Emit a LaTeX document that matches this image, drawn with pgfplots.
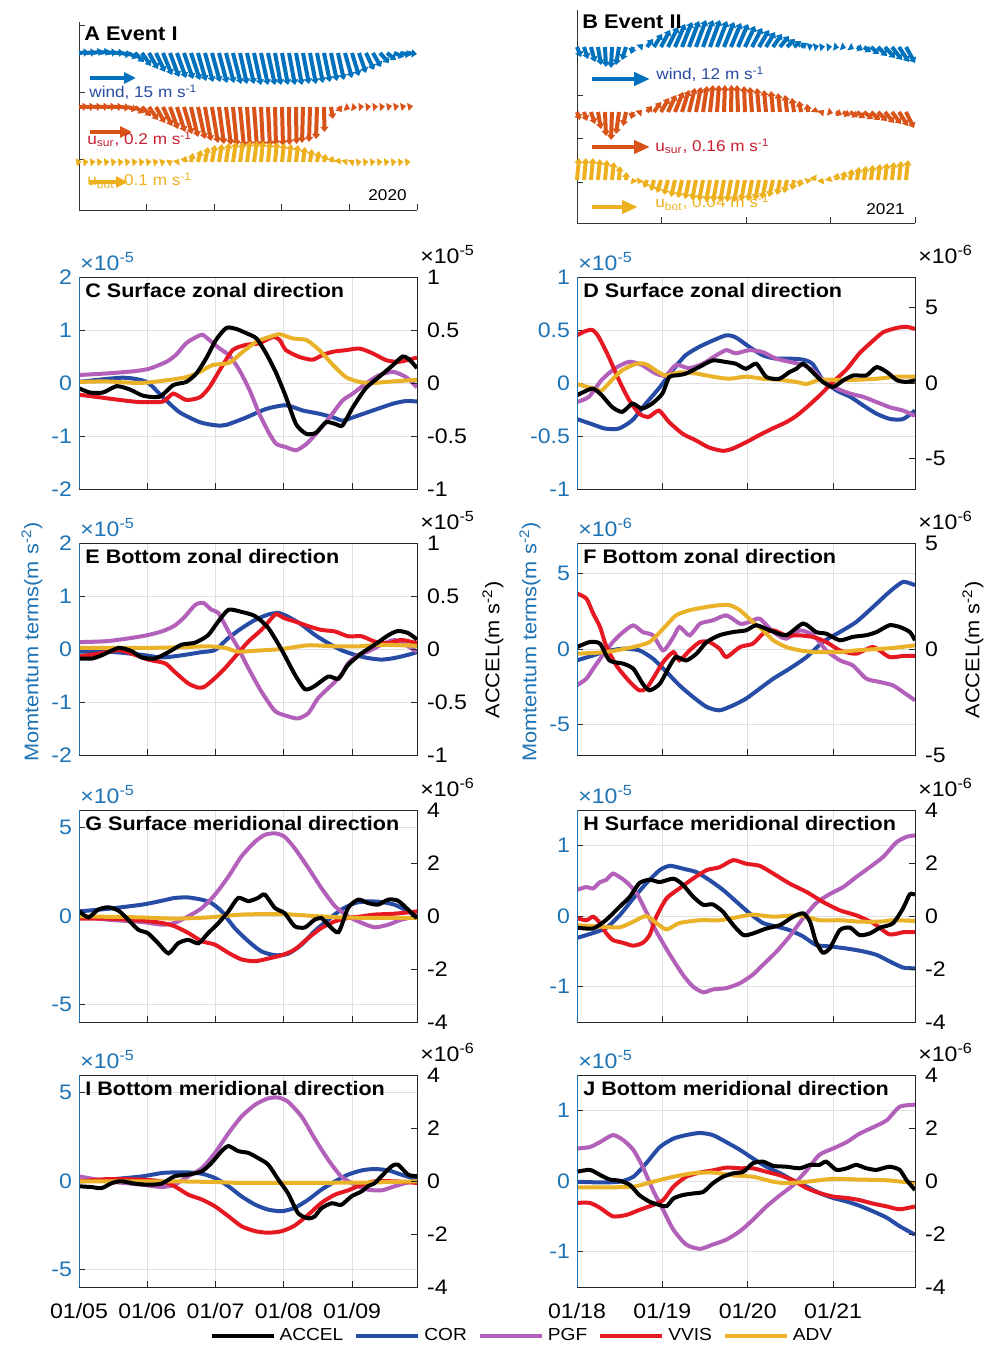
\documentclass[border=0pt]{standalone}
\usepackage{fontspec}
\setmainfont{Liberation Sans}[FakeStretch=1.1]
\usepackage{pgfplots}
\pgfplotsset{compat=1.18}
\usetikzlibrary{arrows.meta}
\definecolor{cCOR}{RGB}{38,76,166}
\definecolor{cPGF}{RGB}{178,96,186}
\definecolor{cVVIS}{RGB}{230,25,35}
\definecolor{cADV}{RGB}{234,178,40}
\definecolor{mblue}{RGB}{30,115,180}
\definecolor{qb}{RGB}{0,114,189}
\definecolor{qo}{RGB}{217,83,25}
\definecolor{qy}{RGB}{237,177,32}
\definecolor{tb}{RGB}{40,75,160}
\definecolor{tr}{RGB}{200,30,50}
\newcommand\fTick{\fontsize{10.5}{12}\selectfont}
\newcommand\fTitle{\fontsize{9.8}{11}\selectfont\bfseries}
\newcommand\fLeg{\fontsize{8.7}{10}\selectfont}
\newcommand\fYl{\fontsize{9.9}{11}\selectfont}
\newcommand\fLab{\fontsize{7.8}{9}\selectfont}
\newcommand\fAB{\fontsize{9.9}{11}\selectfont\bfseries}
\tikzset{
  lACC/.style={black, line width=2pt, smooth, tension=0.4},
  lCOR/.style={cCOR, line width=2pt, smooth, tension=0.4},
  lPGF/.style={cPGF, line width=2pt, smooth, tension=0.4},
  lVVIS/.style={cVVIS, line width=2pt, smooth, tension=0.4},
  lADV/.style={cADV, line width=2pt, smooth, tension=0.4},
}
\pgfplotsset{
  mL/.style={scale only axis, width=169pt, height=106pt, anchor=south west,
    xmin=0, ytick pos=left, xtick pos=left, grid=major,
    major grid style={draw=black!12, line width=0.4pt},
    tick align=inside, major tick length=3pt,
    tick style={line width=0.4pt, black!85},
    axis line style={line width=0.4pt, black!85},
    ticklabel style={font=\fTick},
    yticklabel style={text=mblue},
    xticklabels={}, scaled ticks=false,
    /pgf/number format/assume math mode=true},
  mR/.style={scale only axis, width=169pt, height=106pt, anchor=south west,
    xmin=0, axis y line*=right, axis x line=none,
    tick align=inside, major tick length=3pt,
    tick style={line width=0.4pt, black!85},
    axis line style={line width=0.4pt, black!85},
    ticklabel style={font=\fTick}, yticklabel style={xshift=1.5pt},
    scaled ticks=false,
    /pgf/number format/assume math mode=true},
  cl/.style={xmax=4.95, xtick={0,1,2,3,4}},
  cr/.style={xmax=3.96, xtick={0,1,2,3}},
  qv/.style={line width=2pt, -{Triangle[length=2.6pt,width=4pt]}, quiver={u=\thisrow{u},v=\thisrow{v}}},
  qs/.style={line width=2.2pt, -{Triangle[length=6pt,width=5.5pt]}, quiver={u=\thisrow{u},v=\thisrow{v}}},
  qsb/.style={line width=2.4pt, -{Triangle[length=8pt,width=6.5pt]}, quiver={u=\thisrow{u},v=\thisrow{v}}},
}
\newcommand\decor[5]{%
  \draw[mblue, line width=0.5pt] (#1.south west) -- (#1.north west);
  \node[anchor=north west, inner sep=0pt, font=\fTitle] at ([xshift=3pt,yshift=-2.8pt]#1.north west) {#3};
  \node[anchor=south west, inner sep=0pt, font=\fTick, text=mblue] at ([xshift=0.5pt,yshift=3pt]#1.north west) {×10\textsuperscript{#4}};
  \node[anchor=south west, inner sep=0pt, font=\fTick] at ([xshift=1.5pt,yshift=6.5pt]#2.north east) {×10\textsuperscript{#5}};
}
\begin{document}
\begin{tikzpicture}
\useasboundingbox (0,0) rectangle (493pt,673pt);

%================ A =================
\begin{axis}[name=A, at={(39.5pt,568pt)}, anchor=south west, x=0.5pt, y=0.5pt,
  xmin=0, xmax=338, ymin=0, ymax=188, axis lines*=left, clip=false,
  xtick={0,67.6,135.2,202.8,270.4,338}, ytick={51,118,185},
  xticklabels={}, yticklabels={}, tick align=inside, major tick length=3pt,
  axis line style={line width=0.4pt, black!80}, tick style={line width=0.4pt, black!80}]
\addplot[qb, qv] table {
x y u v
0 157 10 1
7 157 10 1
14 157 10 2
21 157 10 2
28 157 10 1
35 157 10 0.5
42 157 10 -2
49 157 10 -5
56 157 9 -9
63 157 9 -13
70 157 9 -16
77 157 9 -19
84 157 9 -22
91 157 9 -24
98 157 9 -25
105 157 9 -26
112 157 9 -27
119 157 8 -28
126 157 8 -29
133 157 8 -29
140 157 8 -30
147 157 8 -30
154 157 8 -31
161 157 7 -31
168 157 7 -31
175 157 7 -32
182 157 7 -32
189 157 7 -32
196 157 6 -32
203 157 6 -32
210 157 6 -32
217 157 6 -32
224 157 6 -31
231 157 6 -31
238 157 6 -30
245 157 6 -29
252 157 6 -28
259 157 6 -27
266 157 7 -25
273 157 7 -23
280 157 7 -20
287 157 8 -17
294 157 8 -14
301 157 9 -10
308 157 9 -7
315 157 10 -4
322 157 10 -2
329 157 9 -1
};
\addplot[qo, qv] table {
x y u v
0 103 9 0.5
7 103 9 0.5
14 103 9 0.5
21 103 9 0.5
28 103 9 0.5
35 103 9 0.2
42 103 9 -1
49 103 9 -3
56 103 9 -6
63 103 9 -9
70 103 9 -13
77 103 9 -16
84 103 9 -19
91 103 8 -22
98 103 8 -25
105 103 8 -27
112 103 7 -30
119 103 7 -32
126 103 6 -34
133 103 6 -36
140 103 5 -37
147 103 5 -38
154 103 4 -39
161 103 4 -40
168 103 3 -40
175 103 3 -40
182 103 2 -40
189 103 2 -40
196 103 1 -39
203 103 1 -39
210 103 0.5 -38
217 103 0.5 -37
224 103 -1 -36
231 103 -1 -35
238 103 -1 -32
245 103 0.5 -25
252 103 2 -12
259 103 4 -5
266 103 5 -2
273 103 5 -1
280 103 5 0.5
287 103 5 0.5
294 103 5 0.5
301 103 5 0.5
308 103 5 1
315 103 5 1
322 103 5 1
329 103 5 1
};
\addplot[qy, qv] table {
x y u v
0 48 2.5 0.3
7 48 2.5 0.3
14 48 2.5 0.3
21 48 2.5 0.3
28 48 2.5 0.3
35 48 2.5 0.3
42 48 2.5 0.3
49 48 2.5 0.3
56 48 2.5 0.3
63 48 2.5 0.3
70 48 2.5 0.3
77 48 2.5 0.5
84 48 2.5 0.8
91 48 2.5 1.5
98 48 2 3
105 48 2 6
112 48 2 9
119 48 3 12
126 48 3 15
133 48 3 17
140 48 3 18
147 48 3 19
154 48 3 20
161 48 3 20
168 48 3 21
175 48 3 21
182 48 2 21
189 48 2 20
196 48 2 20
203 48 2 19
210 48 2 18
217 48 2 17
224 48 2 15
231 48 2 13
238 48 2 11
245 48 2 8
252 48 2 6
259 48 2 4
266 48 2.5 3
273 48 2.5 2
280 48 2.5 0.5
287 48 2.5 0.3
294 48 2.5 0.3
301 48 2.5 0.3
308 48 2.5 0.3
315 48 2.5 0.3
322 48 2.5 0.3
329 48 2.5 0.3
};
\addplot[qb, qs] table {
x y u v
11 132 46 0
};
\addplot[qo, qs] table {
x y u v
11 78 42 0
};
\addplot[qy, qs] table {
x y u v
11 28 38 0
};
\node[anchor=north west, inner sep=0pt, font=\fAB] at (axis cs:5,184) {A Event I};
\node[anchor=base west, inner sep=0pt, font=\fLab, text=tb] at (axis cs:10,112) {wind, 15 m s\textsuperscript{-1}};
\node[anchor=base west, inner sep=0pt, font=\fLab, text=tr] at (axis cs:8,65) {u\textsubscript{sur}, 0.2 m s\textsuperscript{-1}};
\node[anchor=base west, inner sep=0pt, font=\fLab, text=qy] at (axis cs:8,24) {u\textsubscript{bot}, 0.1 m s\textsuperscript{-1}};
\node[anchor=base east, inner sep=0pt, font=\fLab] at (axis cs:328,9) {2020};
\end{axis}

%================ B =================
\begin{axis}[name=B, at={(288.5pt,561.5pt)}, anchor=south west, x=0.5pt, y=0.5pt,
  xmin=0, xmax=338, ymin=0, ymax=213, axis lines*=left, clip=false,
  xtick={0,84.5,169,253.5,338}, ytick={41,85,128,171},
  xticklabels={}, yticklabels={}, tick align=inside, major tick length=3pt,
  axis line style={line width=0.4pt, black!80}, tick style={line width=0.4pt, black!80}]
\addplot[qb, qv] table {
x y u v
0 176 4 -10
7 176 4 -12
14 176 4 -15
21 176 3 -18
28 176 1 -20
35 176 -1 -21
42 176 -3 -18
49 176 -4 -13
56 176 -2 -7
63 176 3 3
70 176 6 8
77 176 8 13
84 176 9 17
91 176 10 20
98 176 10 23
105 176 10 25
112 176 10 26
119 176 10 27
126 176 10 27
133 176 10 27
140 176 10 26
147 176 10 25
154 176 10 24
161 176 10 23
168 176 10 21
175 176 10 19
182 176 10 17
189 176 9 15
196 176 9 13
203 176 9 11
210 176 8 8
217 176 7 6
224 176 6 4
231 176 5 2
238 176 4 1
245 176 3 0.5
252 176 3 0.3
259 176 3 -0.5
266 176 3 -1
273 176 4 -2
280 176 6 -3
287 176 7 -5
294 176 8 -7
301 176 9 -9
308 176 10 -11
315 176 10 -13
322 176 10 -15
329 176 9 -16
};
\addplot[qo, qv] table {
x y u v
0 111 3 -8
7 111 3 -9
14 111 4 -12
21 111 3 -17
28 111 1 -24
35 111 -1 -28
42 111 -3 -22
49 111 -3 -14
56 111 -2 -7
63 111 2 2
70 111 5 6
77 111 7 10
84 111 8 14
91 111 8 17
98 111 8 20
105 111 7 22
112 111 6 24
119 111 5 25
126 111 4 26
133 111 3 27
140 111 2 27
147 111 1 27
154 111 0.5 27
161 111 -1 27
168 111 -1 26
175 111 -2 25
182 111 -2 24
189 111 -2 22
196 111 -2 21
203 111 -2 19
210 111 -2 17
217 111 -2 14
224 111 -2 11
231 111 -1 8
238 111 0.5 5
245 111 2 2
252 111 4 -1
259 111 6 -3
266 111 7 -4
273 111 8 -5
280 111 8 -6
287 111 9 -7
294 111 9 -8
301 111 9 -9
308 111 9 -11
315 111 9 -12
322 111 9 -14
329 111 8 -16
};
\addplot[qy, qv] table {
x y u v
0 43 2 22
7 43 2 22
14 43 2 22
21 43 2 21
28 43 2 20
35 43 2 18
42 43 1 14
49 43 0.5 8
56 43 -1 2
63 43 -2 -4
70 43 -3 -8
77 43 -3 -11
84 43 -4 -13
91 43 -4 -15
98 43 -4 -17
105 43 -4 -18
112 43 -4 -19
119 43 -4 -20
126 43 -4 -21
133 43 -4 -22
140 43 -4 -22
147 43 -4 -22
154 43 -4 -22
161 43 -4 -22
168 43 -4 -21
175 43 -4 -21
182 43 -4 -20
189 43 -4 -19
196 43 -4 -17
203 43 -3 -15
210 43 -3 -13
217 43 -2 -10
224 43 -2 -7
231 43 -1 -4
238 43 0.5 -1
245 43 1 2
252 43 1 4
259 43 2 7
266 43 2 9
273 43 2 11
280 43 2 13
287 43 2 14
294 43 2 15
301 43 2 16
308 43 2 17
315 43 2 18
322 43 2 19
329 43 2 20
};
\addplot[qb, qsb] table {
x y u v
15 144 58 0
};
\addplot[qo, qsb] table {
x y u v
15 76 58 0
};
\addplot[qy, qsb] table {
x y u v
15 16 46 0
};
\node[anchor=north west, inner sep=0pt, font=\fAB] at (axis cs:5,209) {B Event II};
\node[anchor=base west, inner sep=0pt, font=\fLab, text=tb] at (axis cs:79,143) {wind, 12 m s\textsuperscript{-1}};
\node[anchor=base west, inner sep=0pt, font=\fLab, text=tr] at (axis cs:78,71) {u\textsubscript{sur}, 0.16 m s\textsuperscript{-1}};
\node[anchor=base west, inner sep=0pt, font=\fLab, text=qy] at (axis cs:78,15) {u\textsubscript{bot}, 0.04 m s\textsuperscript{-1}};
\node[anchor=base east, inner sep=0pt, font=\fLab] at (axis cs:328,8) {2021};
\end{axis}

%================ C =================
\begin{axis}[mL, cl, name=C1, at={(39.5pt,428.5pt)}, ymin=-2, ymax=2, ytick={-2,-1,0,1,2}]
\addplot[lCOR] coordinates {(0,0.02)(0.64,0.10)(0.99,0.02)(1.23,-0.27)(1.47,-0.55)(1.77,-0.74)(2.01,-0.80)(2.16,-0.79)(2.45,-0.65)(2.74,-0.49)(3.03,-0.42)(3.28,-0.52)(3.52,-0.58)(3.72,-0.65)(3.86,-0.71)(4.01,-0.65)(4.30,-0.52)(4.60,-0.39)(4.79,-0.34)(4.95,-0.35)};
\addplot[lPGF] coordinates {(0,0.15)(0.40,0.18)(0.79,0.22)(1.03,0.27)(1.28,0.40)(1.42,0.53)(1.57,0.75)(1.72,0.87)(1.81,0.91)(1.91,0.81)(2.06,0.65)(2.20,0.52)(2.35,0.24)(2.50,-0.14)(2.64,-0.58)(2.79,-0.96)(2.89,-1.15)(3.03,-1.21)(3.18,-1.27)(3.33,-1.15)(3.47,-0.96)(3.67,-0.65)(3.86,-0.33)(4.01,-0.20)(4.20,-0.01)(4.40,0.15)(4.60,0.21)(4.79,0.11)(4.95,-0.08)};
\addplot[lVVIS] coordinates {(0,-0.22)(0.30,-0.27)(0.60,-0.32)(0.89,-0.36)(1.23,-0.35)(1.38,-0.20)(1.57,-0.32)(1.77,-0.27)(1.91,-0.08)(2.06,0.24)(2.25,0.62)(2.45,0.72)(2.64,0.75)(2.84,0.87)(2.94,0.81)(3.03,0.62)(3.23,0.49)(3.42,0.44)(3.57,0.53)(3.72,0.59)(3.91,0.62)(4.11,0.65)(4.30,0.56)(4.50,0.43)(4.69,0.40)(4.95,0.48)};
\addplot[lADV] coordinates {(0,0.02)(0.40,0.03)(0.89,0.00)(1.28,0.05)(1.57,0.11)(1.77,0.21)(1.96,0.34)(2.20,0.38)(2.40,0.59)(2.60,0.78)(2.79,0.87)(2.94,0.92)(3.13,0.84)(3.33,0.81)(3.52,0.62)(3.72,0.34)(3.91,0.11)(4.11,0.02)(4.30,0.00)(4.60,0.03)(4.95,0.06)};
\end{axis}
\begin{axis}[mR, cl, name=C2, at={(39.5pt,428.5pt)}, ymin=-1, ymax=1, ytick={-1,-0.5,0,0.5,1}]
\addplot[lACC] coordinates {(0,-0.05)(0.16,-0.09)(0.35,-0.09)(0.55,-0.03)(0.74,-0.06)(0.94,-0.12)(1.18,-0.13)(1.38,-0.02)(1.57,0.01)(1.72,0.09)(1.86,0.23)(2.01,0.41)(2.16,0.52)(2.30,0.51)(2.45,0.47)(2.60,0.42)(2.74,0.28)(2.89,0.09)(3.03,-0.13)(3.18,-0.39)(3.33,-0.48)(3.47,-0.47)(3.62,-0.37)(3.77,-0.39)(3.86,-0.40)(4.01,-0.23)(4.20,-0.05)(4.40,0.06)(4.60,0.17)(4.74,0.25)(4.84,0.22)(4.95,0.14)};
\end{axis}
\decor{C1}{C2}{C Surface zonal direction}{-5}{-5}

%================ D =================
\begin{axis}[mL, cr, name=D1, at={(288.5pt,428.5pt)}, ymin=-1, ymax=1, ytick={-1,-0.5,0,0.5,1}]
\addplot[lCOR] coordinates {(0,-0.34)(0.18,-0.39)(0.33,-0.43)(0.49,-0.43)(0.65,-0.35)(0.80,-0.20)(0.96,-0.05)(1.12,0.12)(1.27,0.26)(1.43,0.34)(1.59,0.40)(1.75,0.45)(1.86,0.43)(2.02,0.34)(2.18,0.26)(2.33,0.23)(2.49,0.23)(2.65,0.22)(2.76,0.18)(2.88,0.03)(3.04,-0.07)(3.20,-0.13)(3.35,-0.21)(3.51,-0.29)(3.67,-0.34)(3.82,-0.34)(3.96,-0.26)};
\addplot[lPGF] coordinates {(0,-0.18)(0.14,-0.13)(0.29,0.03)(0.45,0.14)(0.61,0.20)(0.76,0.17)(0.92,0.09)(1.04,0.07)(1.16,0.17)(1.31,0.14)(1.47,0.18)(1.63,0.26)(1.75,0.31)(1.86,0.28)(2.02,0.31)(2.18,0.29)(2.33,0.23)(2.49,0.20)(2.65,0.17)(2.76,0.12)(2.88,0.03)(3.04,-0.05)(3.20,-0.10)(3.35,-0.13)(3.51,-0.18)(3.67,-0.23)(3.82,-0.26)(3.96,-0.31)};
\addplot[lVVIS] coordinates {(0,0.45)(0.10,0.49)(0.18,0.50)(0.25,0.44)(0.37,0.25)(0.49,0.03)(0.61,-0.16)(0.73,-0.29)(0.84,-0.32)(0.96,-0.26)(1.08,-0.37)(1.24,-0.48)(1.39,-0.54)(1.55,-0.61)(1.71,-0.64)(1.82,-0.62)(1.98,-0.56)(2.14,-0.49)(2.29,-0.43)(2.45,-0.37)(2.57,-0.31)(2.69,-0.23)(2.84,-0.12)(3.00,0.01)(3.16,0.13)(3.31,0.28)(3.47,0.40)(3.59,0.48)(3.75,0.52)(3.86,0.53)(3.96,0.51)};
\addplot[lADV] coordinates {(0,-0.01)(0.18,-0.05)(0.29,-0.07)(0.41,0.03)(0.53,0.12)(0.69,0.18)(0.80,0.18)(0.92,0.12)(1.04,0.07)(1.20,0.10)(1.39,0.09)(1.59,0.06)(1.78,0.04)(1.98,0.06)(2.18,0.04)(2.37,0.03)(2.57,0.01)(2.69,-0.01)(2.84,0.03)(3.04,0.03)(3.27,0.03)(3.51,0.04)(3.75,0.06)(3.96,0.06)};
\end{axis}
\begin{axis}[mR, cr, name=D2, at={(288.5pt,428.5pt)}, ymin=-7, ymax=7, ytick={-5,0,5}]
\addplot[lACC] coordinates {(0,-0.81)(0.18,-0.37)(0.29,-0.81)(0.41,-1.58)(0.53,-1.91)(0.65,-1.36)(0.76,-1.69)(0.88,-1.36)(1.00,-0.70)(1.08,0.39)(1.16,0.50)(1.27,0.61)(1.43,1.05)(1.59,1.49)(1.75,1.38)(1.86,1.27)(1.98,0.94)(2.10,1.27)(2.22,0.39)(2.37,0.28)(2.49,0.72)(2.57,0.94)(2.65,1.27)(2.76,0.72)(2.88,0.07)(3.00,-0.26)(3.12,0.18)(3.24,0.50)(3.39,0.50)(3.51,1.05)(3.63,0.72)(3.75,0.18)(3.86,0.07)(3.96,0.18)};
\end{axis}
\decor{D1}{D2}{D Surface zonal direction}{-5}{-6}

%================ E =================
\begin{axis}[mL, cl, name=E1, at={(39.5pt,295.5pt)}, ymin=-2, ymax=2, ytick={-2,-1,0,1,2}]
\addplot[lCOR] coordinates {(0,-0.05)(0.43,-0.05)(0.92,-0.11)(1.21,-0.16)(1.50,-0.12)(1.79,-0.06)(1.99,-0.02)(2.19,0.21)(2.38,0.39)(2.58,0.55)(2.77,0.65)(2.92,0.68)(3.06,0.61)(3.26,0.46)(3.45,0.27)(3.65,0.11)(3.84,-0.02)(4.04,-0.11)(4.23,-0.17)(4.43,-0.20)(4.62,-0.17)(4.82,-0.11)(4.95,-0.06)};
\addplot[lPGF] coordinates {(0,0.13)(0.43,0.15)(0.92,0.24)(1.21,0.33)(1.40,0.44)(1.55,0.61)(1.70,0.83)(1.82,0.87)(1.94,0.74)(2.04,0.68)(2.19,0.33)(2.33,0.02)(2.48,-0.36)(2.67,-0.80)(2.87,-1.17)(3.06,-1.27)(3.21,-1.31)(3.36,-1.21)(3.50,-0.93)(3.70,-0.68)(3.84,-0.49)(3.94,-0.27)(4.09,-0.11)(4.23,-0.05)(4.43,0.08)(4.62,0.17)(4.82,0.05)(4.95,-0.05)};
\addplot[lVVIS] coordinates {(0,-0.14)(0.33,-0.08)(0.58,-0.02)(0.82,-0.11)(1.01,-0.20)(1.26,-0.27)(1.40,-0.43)(1.60,-0.65)(1.75,-0.73)(1.84,-0.71)(1.99,-0.55)(2.14,-0.36)(2.33,-0.08)(2.48,0.14)(2.67,0.36)(2.82,0.58)(2.89,0.66)(3.01,0.58)(3.16,0.52)(3.36,0.43)(3.55,0.36)(3.75,0.33)(3.94,0.24)(4.14,0.24)(4.33,0.14)(4.53,0.11)(4.72,0.17)(4.95,0.11)};
\addplot[lADV] coordinates {(0,0.02)(0.92,0.02)(1.40,0.03)(1.89,0.05)(2.14,0.02)(2.33,-0.05)(2.62,-0.03)(2.97,0.00)(3.36,0.07)(3.75,0.05)(4.09,0.05)(4.43,0.08)(4.95,0.06)};
\end{axis}
\begin{axis}[mR, cl, name=E2, at={(39.5pt,295.5pt)}, ymin=-1, ymax=1, ytick={-1,-0.5,0,0.5,1}]
\addplot[lACC] coordinates {(0,-0.09)(0.19,-0.09)(0.33,-0.06)(0.58,0.01)(0.77,-0.02)(0.92,-0.08)(1.11,-0.09)(1.31,-0.03)(1.50,0.04)(1.70,0.06)(1.89,0.13)(2.04,0.26)(2.19,0.37)(2.38,0.35)(2.58,0.31)(2.77,0.20)(2.97,-0.01)(3.16,-0.24)(3.31,-0.38)(3.45,-0.35)(3.65,-0.26)(3.80,-0.28)(3.94,-0.15)(4.14,-0.04)(4.33,0.04)(4.53,0.13)(4.67,0.17)(4.82,0.15)(4.95,0.09)};
\end{axis}
\decor{E1}{E2}{E Bottom zonal direction}{-5}{-5}

%================ F =================
\begin{axis}[mL, cr, name=F1, at={(288.5pt,295.5pt)}, ymin=-7, ymax=7, ytick={-5,0,5}]
\addplot[lCOR] coordinates {(0,-0.75)(0.19,-0.42)(0.34,-0.15)(0.54,0.02)(0.73,-0.09)(0.89,-0.64)(1.05,-1.52)(1.20,-2.40)(1.36,-3.17)(1.52,-3.83)(1.67,-4.05)(1.83,-3.72)(1.98,-3.28)(2.14,-2.62)(2.30,-1.96)(2.49,-1.30)(2.69,-0.53)(2.88,0.46)(3.08,1.12)(3.27,1.78)(3.47,2.78)(3.66,3.77)(3.82,4.43)(3.96,4.21)};
\addplot[lPGF] coordinates {(0,-2.40)(0.11,-1.96)(0.19,-1.30)(0.30,-0.42)(0.42,0.46)(0.54,1.12)(0.66,1.56)(0.77,1.12)(0.89,0.90)(1.01,-0.09)(1.13,0.79)(1.20,1.45)(1.32,0.90)(1.44,1.67)(1.59,1.89)(1.75,2.22)(1.91,1.67)(2.02,1.78)(2.14,2.00)(2.30,1.12)(2.45,0.68)(2.61,1.23)(2.77,0.90)(2.92,-0.09)(3.08,-0.75)(3.23,-1.08)(3.39,-1.96)(3.55,-2.18)(3.70,-2.40)(3.82,-2.84)(3.96,-3.39)};
\addplot[lVVIS] coordinates {(0,3.66)(0.11,3.33)(0.19,2.34)(0.27,1.45)(0.34,0.24)(0.46,-1.08)(0.62,-2.18)(0.73,-2.73)(0.81,-2.62)(0.89,-1.96)(1.01,-0.86)(1.13,-0.20)(1.20,-0.75)(1.32,-0.09)(1.44,0.46)(1.55,0.46)(1.67,0.02)(1.75,-0.53)(1.91,0.13)(2.06,0.35)(2.18,1.01)(2.30,1.23)(2.45,0.90)(2.61,0.90)(2.77,0.79)(2.92,0.46)(3.08,-0.09)(3.27,-0.31)(3.47,0.13)(3.66,-0.53)(3.82,-0.46)(3.96,-0.46)};
\addplot[lADV] coordinates {(0,-0.31)(0.34,-0.20)(0.66,0.13)(0.85,0.46)(1.01,1.34)(1.16,2.22)(1.32,2.56)(1.52,2.78)(1.67,2.89)(1.79,2.89)(1.91,2.56)(2.06,1.78)(2.18,1.23)(2.30,0.57)(2.45,0.13)(2.61,-0.09)(2.77,-0.20)(2.92,-0.20)(3.08,-0.20)(3.27,-0.09)(3.47,-0.02)(3.70,0.07)(3.96,0.24)};
\end{axis}
\begin{axis}[mR, cr, name=F2, at={(288.5pt,295.5pt)}, ymin=-5, ymax=5, ytick={-5,0,5}]
\addplot[lACC] coordinates {(0,0.09)(0.15,0.33)(0.27,0.25)(0.38,-0.54)(0.54,-0.69)(0.66,-0.93)(0.77,-1.64)(0.85,-1.95)(0.97,-1.64)(1.09,-0.77)(1.16,-0.38)(1.28,-0.54)(1.40,-0.22)(1.52,0.33)(1.67,0.65)(1.83,0.80)(1.98,0.88)(2.10,1.12)(2.26,0.88)(2.45,0.65)(2.65,1.20)(2.80,0.80)(2.92,0.72)(3.08,0.41)(3.23,0.57)(3.39,0.65)(3.51,0.80)(3.66,1.12)(3.78,1.04)(3.90,0.80)(3.96,0.41)};
\end{axis}
\decor{F1}{F2}{F Bottom zonal direction}{-6}{-6}

%================ G =================
\begin{axis}[mL, cl, name=G1, at={(39.5pt,162pt)}, ymin=-6, ymax=6, ytick={-5,0,5}]
\addplot[lCOR] coordinates {(0,0.26)(0.43,0.41)(0.92,0.64)(1.21,0.86)(1.40,1.02)(1.60,1.05)(1.80,0.92)(1.94,0.73)(2.09,0.26)(2.28,-0.68)(2.48,-1.43)(2.67,-2.00)(2.87,-2.22)(3.06,-2.14)(3.26,-1.62)(3.45,-0.86)(3.65,-0.21)(3.84,0.36)(4.04,0.73)(4.23,0.83)(4.43,0.79)(4.62,0.64)(4.82,0.26)(4.95,-0.02)};
\addplot[lPGF] coordinates {(0,-0.02)(0.43,-0.21)(0.92,-0.34)(1.21,-0.49)(1.40,-0.39)(1.60,-0.02)(1.80,0.45)(1.99,1.20)(2.19,2.24)(2.38,3.38)(2.58,4.21)(2.72,4.59)(2.87,4.68)(3.01,4.49)(3.16,3.83)(3.36,2.71)(3.55,1.58)(3.75,0.55)(3.94,-0.02)(4.14,-0.39)(4.33,-0.64)(4.53,-0.49)(4.72,-0.21)(4.95,-0.02)};
\addplot[lVVIS] coordinates {(0,-0.15)(0.43,-0.15)(0.92,-0.26)(1.21,-0.39)(1.40,-0.58)(1.60,-0.96)(1.80,-1.43)(1.99,-1.62)(2.19,-2.09)(2.38,-2.46)(2.58,-2.56)(2.77,-2.41)(2.97,-2.22)(3.16,-1.90)(3.36,-1.24)(3.55,-0.68)(3.75,-0.30)(3.94,-0.11)(4.14,-0.02)(4.33,0.08)(4.62,0.13)(4.95,0.26)};
\addplot[lADV] coordinates {(0,-0.02)(0.92,-0.08)(1.40,-0.15)(1.89,-0.08)(2.38,0.08)(2.97,0.11)(3.36,0.02)(3.84,-0.08)(4.33,-0.11)(4.95,-0.11)};
\end{axis}
\begin{axis}[mR, cl, name=G2, at={(39.5pt,162pt)}, ymin=-4, ymax=4, ytick={-4,-2,0,2,4}]
\addplot[lACC] coordinates {(0,0.18)(0.14,-0.05)(0.28,0.24)(0.43,0.33)(0.58,0.20)(0.72,-0.14)(0.87,-0.52)(1.01,-0.65)(1.16,-1.03)(1.31,-1.41)(1.45,-1.03)(1.60,-0.90)(1.75,-1.03)(1.89,-0.65)(2.04,-0.27)(2.19,0.18)(2.33,0.68)(2.48,0.56)(2.62,0.68)(2.72,0.81)(2.87,0.30)(3.01,0.11)(3.16,-0.39)(3.31,-0.43)(3.45,-0.14)(3.55,-0.08)(3.65,-0.33)(3.80,-0.61)(3.94,0.30)(4.09,0.62)(4.23,0.49)(4.38,0.43)(4.53,0.62)(4.67,0.58)(4.82,0.24)(4.95,-0.08)};
\end{axis}
\decor{G1}{G2}{G Surface meridional direction}{-5}{-6}

%================ H =================
\begin{axis}[mL, cr, name=H1, at={(288.5pt,162pt)}, ymin=-1.5, ymax=1.5, ytick={-1,0,1}]
\addplot[lCOR] coordinates {(0,-0.31)(0.19,-0.24)(0.34,-0.17)(0.50,0.01)(0.66,0.25)(0.81,0.46)(0.97,0.65)(1.09,0.71)(1.24,0.67)(1.40,0.62)(1.55,0.51)(1.71,0.37)(1.87,0.20)(2.02,0.04)(2.18,-0.10)(2.34,-0.15)(2.49,-0.20)(2.65,-0.29)(2.80,-0.41)(2.96,-0.43)(3.16,-0.46)(3.35,-0.50)(3.51,-0.55)(3.66,-0.64)(3.82,-0.73)(3.96,-0.74)};
\addplot[lPGF] coordinates {(0,0.37)(0.11,0.41)(0.19,0.39)(0.27,0.48)(0.34,0.51)(0.42,0.60)(0.50,0.55)(0.58,0.48)(0.70,0.32)(0.81,0.06)(0.93,-0.22)(1.09,-0.55)(1.24,-0.83)(1.36,-1.00)(1.48,-1.08)(1.59,-1.04)(1.75,-1.02)(1.91,-0.95)(2.06,-0.83)(2.18,-0.69)(2.34,-0.50)(2.49,-0.29)(2.65,-0.03)(2.80,0.18)(2.96,0.31)(3.12,0.41)(3.27,0.55)(3.43,0.69)(3.59,0.84)(3.74,1.04)(3.86,1.12)(3.96,1.14)};
\addplot[lVVIS] coordinates {(0,-0.03)(0.11,-0.06)(0.19,-0.01)(0.27,-0.10)(0.34,-0.24)(0.42,-0.34)(0.54,-0.38)(0.66,-0.42)(0.77,-0.38)(0.85,-0.27)(0.93,-0.01)(1.05,0.25)(1.20,0.39)(1.36,0.53)(1.52,0.65)(1.67,0.69)(1.83,0.79)(1.98,0.74)(2.14,0.71)(2.30,0.60)(2.49,0.46)(2.69,0.34)(2.88,0.20)(3.08,0.08)(3.27,0.01)(3.47,-0.10)(3.66,-0.26)(3.82,-0.23)(3.96,-0.23)};
\addplot[lADV] coordinates {(0,-0.13)(0.27,-0.15)(0.50,-0.16)(0.66,-0.08)(0.81,0.00)(0.93,-0.10)(1.05,-0.19)(1.20,-0.10)(1.44,-0.06)(1.67,-0.06)(1.91,-0.01)(2.06,0.02)(2.30,-0.01)(2.61,0.01)(2.84,-0.06)(3.08,-0.06)(3.31,-0.08)(3.55,-0.08)(3.70,-0.06)(3.96,-0.07)};
\end{axis}
\begin{axis}[mR, cr, name=H2, at={(288.5pt,162pt)}, ymin=-4, ymax=4, ytick={-4,-2,0,2,4}]
\addplot[lACC] coordinates {(0,-0.44)(0.19,-0.47)(0.34,-0.15)(0.50,0.35)(0.62,0.73)(0.73,1.24)(0.85,1.37)(0.97,1.28)(1.13,1.41)(1.24,1.18)(1.36,0.73)(1.48,0.42)(1.59,0.44)(1.71,0.16)(1.83,-0.34)(1.95,-0.72)(2.06,-0.66)(2.22,-0.47)(2.38,-0.34)(2.53,-0.03)(2.65,0.10)(2.73,-0.22)(2.80,-0.97)(2.88,-1.38)(2.96,-1.23)(3.08,-0.53)(3.20,-0.44)(3.31,-0.72)(3.43,-0.66)(3.55,-0.44)(3.70,-0.28)(3.82,0.29)(3.90,0.82)(3.96,0.80)};
\end{axis}
\decor{H1}{H2}{H Surface meridional direction}{-5}{-6}

%================ I =================
\begin{axis}[mL, cl, name=I1, at={(39.5pt,29.5pt)}, ymin=-6, ymax=6, ytick={-5,0,5},
  xticklabels={01/05,01/06,01/07,01/08,01/09}, xticklabel style={yshift=-4.5pt}]
\addplot[lCOR] coordinates {(0,-0.02)(0.43,0.08)(0.92,0.26)(1.21,0.45)(1.40,0.49)(1.60,0.49)(1.80,0.41)(1.99,0.17)(2.19,-0.30)(2.38,-0.87)(2.58,-1.34)(2.77,-1.62)(2.97,-1.71)(3.16,-1.52)(3.36,-1.05)(3.55,-0.49)(3.75,-0.02)(3.94,0.36)(4.14,0.60)(4.33,0.68)(4.53,0.60)(4.72,0.36)(4.95,0.08)};
\addplot[lPGF] coordinates {(0,0.26)(0.43,-0.02)(0.92,-0.21)(1.21,-0.34)(1.40,-0.21)(1.60,0.26)(1.80,0.73)(1.99,1.58)(2.19,2.71)(2.38,3.65)(2.58,4.32)(2.77,4.68)(2.92,4.72)(3.06,4.49)(3.26,3.65)(3.45,2.41)(3.65,1.20)(3.84,0.26)(4.04,-0.21)(4.23,-0.49)(4.43,-0.53)(4.62,-0.30)(4.82,-0.08)(4.95,-0.02)};
\addplot[lVVIS] coordinates {(0,-0.02)(0.43,0.11)(0.92,0.08)(1.21,-0.02)(1.40,-0.30)(1.60,-0.77)(1.80,-1.05)(1.99,-1.43)(2.19,-2.00)(2.38,-2.56)(2.58,-2.84)(2.77,-2.93)(2.97,-2.84)(3.16,-2.52)(3.36,-1.90)(3.55,-1.24)(3.75,-0.77)(3.94,-0.53)(4.14,-0.21)(4.33,-0.02)(4.62,-0.02)(4.95,-0.11)};
\addplot[lADV] coordinates {(0,-0.02)(0.70,-0.02)(1.40,-0.02)(2.00,-0.06)(2.38,-0.11)(3.00,-0.10)(3.36,-0.11)(4.00,-0.09)(4.33,-0.08)(4.95,-0.02)};
\end{axis}
\begin{axis}[mR, cl, name=I2, at={(39.5pt,29.5pt)}, ymin=-4, ymax=4, ytick={-4,-2,0,2,4}]
\addplot[lACC] coordinates {(0,-0.20)(0.19,-0.23)(0.33,-0.27)(0.48,-0.08)(0.62,-0.01)(0.82,-0.10)(1.01,-0.14)(1.21,-0.10)(1.40,0.18)(1.60,0.24)(1.80,0.37)(1.94,0.68)(2.09,1.13)(2.19,1.32)(2.33,1.13)(2.48,1.06)(2.62,0.87)(2.77,0.62)(2.92,0.05)(3.06,-0.46)(3.21,-1.22)(3.36,-1.41)(3.45,-1.34)(3.55,-1.03)(3.70,-0.84)(3.84,-0.90)(3.99,-0.58)(4.14,-0.39)(4.23,-0.20)(4.33,-0.08)(4.43,0.18)(4.58,0.56)(4.67,0.62)(4.82,0.24)(4.95,0.18)};
\end{axis}
\decor{I1}{I2}{I Bottom meridional direction}{-5}{-6}

%================ J =================
\begin{axis}[mL, cr, name=J1, at={(288.5pt,29.5pt)}, ymin=-1.5, ymax=1.5, ytick={-1,0,1},
  xticklabels={01/18,01/19,01/20,01/21}, xticklabel style={yshift=-4.5pt}]
\addplot[lCOR] coordinates {(0,-0.01)(0.27,-0.02)(0.50,-0.01)(0.66,0.06)(0.81,0.25)(0.97,0.48)(1.13,0.60)(1.28,0.65)(1.44,0.68)(1.59,0.65)(1.75,0.55)(1.91,0.44)(2.06,0.32)(2.22,0.20)(2.38,0.11)(2.53,0.01)(2.69,-0.08)(2.84,-0.17)(3.00,-0.24)(3.16,-0.29)(3.31,-0.35)(3.47,-0.43)(3.63,-0.52)(3.78,-0.64)(3.96,-0.76)};
\addplot[lPGF] coordinates {(0,0.46)(0.15,0.48)(0.27,0.55)(0.42,0.65)(0.54,0.58)(0.66,0.44)(0.77,0.20)(0.89,-0.13)(1.01,-0.41)(1.13,-0.69)(1.28,-0.90)(1.44,-0.96)(1.59,-0.90)(1.75,-0.83)(1.91,-0.71)(2.06,-0.55)(2.22,-0.36)(2.38,-0.20)(2.53,-0.06)(2.69,0.15)(2.84,0.37)(3.00,0.46)(3.16,0.55)(3.31,0.67)(3.47,0.76)(3.63,0.86)(3.78,1.05)(3.96,1.08)};
\addplot[lVVIS] coordinates {(0,-0.31)(0.15,-0.31)(0.27,-0.38)(0.42,-0.50)(0.58,-0.48)(0.73,-0.41)(0.89,-0.34)(1.01,-0.27)(1.13,-0.08)(1.28,0.06)(1.44,0.12)(1.59,0.15)(1.75,0.19)(1.91,0.18)(2.06,0.18)(2.22,0.13)(2.38,0.08)(2.53,0.01)(2.69,-0.10)(2.84,-0.17)(3.00,-0.22)(3.16,-0.24)(3.31,-0.27)(3.47,-0.32)(3.63,-0.36)(3.78,-0.40)(3.96,-0.36)};
\addplot[lADV] coordinates {(0,-0.09)(0.34,-0.09)(0.66,-0.08)(0.89,-0.01)(1.13,0.06)(1.36,0.11)(1.59,0.12)(1.83,0.08)(2.06,0.06)(2.30,-0.01)(2.45,-0.03)(2.69,-0.01)(3.00,0.03)(3.31,0.02)(3.63,0.01)(3.96,-0.03)};
\end{axis}
\begin{axis}[mR, cr, name=J2, at={(288.5pt,29.5pt)}, ymin=-4, ymax=4, ytick={-4,-2,0,2,4},
  legend style={at={(-0.16,-0.232)}, anchor=center, draw=none, fill=none, font=\fLeg,
    legend columns=5, /tikz/every even column/.append style={column sep=3.5pt}},
  legend image code/.code={\draw[#1] (0pt,0pt) -- (31pt,0pt);}]
\addplot[lACC] coordinates {(0,0.35)(0.15,0.42)(0.27,0.23)(0.38,0.06)(0.50,0.01)(0.62,-0.15)(0.73,-0.53)(0.85,-0.78)(0.97,-0.91)(1.05,-0.95)(1.13,-0.66)(1.24,-0.53)(1.36,-0.47)(1.48,-0.41)(1.59,-0.09)(1.71,0.16)(1.83,0.29)(1.95,0.35)(2.06,0.67)(2.18,0.73)(2.30,0.57)(2.45,0.54)(2.61,0.48)(2.73,0.61)(2.84,0.61)(2.92,0.73)(3.04,0.42)(3.16,0.48)(3.27,0.61)(3.39,0.48)(3.51,0.42)(3.66,0.54)(3.78,0.42)(3.86,0.04)(3.96,-0.34)};
\addlegendentry{ACCEL}
\addlegendimage{lCOR}\addlegendentry{COR}
\addlegendimage{lPGF}\addlegendentry{PGF}
\addlegendimage{lVVIS}\addlegendentry{VVIS}
\addlegendimage{lADV}\addlegendentry{ADV}
\end{axis}
\decor{J1}{J2}{J Bottom meridional direction}{-5}{-6}

%================ axis labels =================
\node[rotate=90, font=\fYl, text=mblue] at (16pt,352pt) {Momtentum terms(m s\textsuperscript{-2})};
\node[rotate=90, font=\fYl, text=mblue] at (265pt,352pt) {Momtentum terms(m s\textsuperscript{-2})};
\node[rotate=90, font=\fYl] at (246.5pt,348pt) {ACCEL(m s\textsuperscript{-2})};
\node[rotate=90, font=\fYl] at (486.5pt,348pt) {ACCEL(m s\textsuperscript{-2})};
\end{tikzpicture}
\end{document}
